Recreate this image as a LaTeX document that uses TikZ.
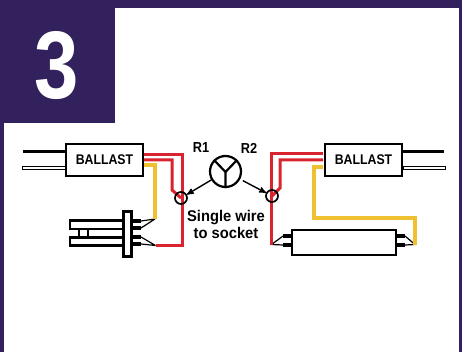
\documentclass[tikz,border=0pt]{standalone}
\usepackage{fontspec}
\setmainfont{Liberation Sans}
\newfontfamily\condfont[FakeStretch=0.88]{Liberation Sans}
\newfontfamily\numfont[FakeStretch=0.83]{Liberation Sans}
\newfontfamily\notefont[FakeStretch=0.95]{Liberation Sans}
\usetikzlibrary{positioning}
\usetikzlibrary{arrows}
\definecolor{bandpurple}{HTML}{32215C}
\definecolor{wirered}{HTML}{D9232E}
\definecolor{wireyellow}{HTML}{EFC02F}
\begin{document}
\begin{tikzpicture}[x=1pt,y=-1pt,>=stealth',
	label node/.style={font=\condfont\bfseries\fontsize{14.5}{14.5}\selectfont,inner sep=0pt},
	ballast node/.style={draw,line width=2.4pt,minimum width=77pt,minimum height=32pt,inner sep=0pt,font=\condfont\bfseries\fontsize{14}{14}\selectfont},
	socket node/.style={circle,draw,line width=1.7pt,minimum size=12pt,inner sep=0pt},
	red wire/.style={draw=wirered,line width=3pt,line join=miter},
	yellow wire/.style={draw=wireyellow,line width=3.6pt,line join=miter},
	pin line/.style={line width=4.5pt},
	lead/.style={line width=1.2pt},
	hollow wire/.style={draw,line width=1pt,fill=white},
	bar/.style={draw,line width=2.4pt,fill=white}]
	\useasboundingbox (0,0) rectangle (462,352);
	
	% frame and number tab
	\fill[bandpurple] (0,0) rectangle (462,8);
	\fill[bandpurple] (0,0) rectangle (4,352);
	\fill[bandpurple] (459,0) rectangle (462,352);
	\fill[bandpurple] (0,0) rectangle (115,123);
	\node[text=white,font=\numfont\bfseries\fontsize{96}{96}\selectfont,inner sep=0pt] (num) at (56.5,66) {3};
	
	% ballasts
	\node[ballast node] (bl) at (104.5,160) {BALLAST};
	\node[ballast node] (br) at (363.5,160) {BALLAST};
	
	% lamp symbol
	\node[circle,draw,line width=2.2pt,minimum size=31pt,inner sep=0pt] (lamp) at (225.5,171.5) {};
	\coordinate (y) at (225.5,172);
	\draw[line width=2.2pt] (lamp.135) -- (y) -- (lamp.45) (y) -- (lamp.south);
	\node[label node] (r1) at (201,148) {R1};
	\node[label node] (r2) at (249,148) {R2};
	\node[label node,font=\notefont\bfseries\fontsize{15.5}{15.5}\selectfont,align=center] (txt) at (226,224.5) {Single wire\\[1pt]to socket};
	
	% sockets
	\coordinate (sl) at (181,198);
	\coordinate (sr) at (272,196);
	
	% tube, left side
	\draw[bar] (70,220.5) rectangle (123,229);
	\draw[bar] (70,237.5) rectangle (123,245.5);
	\draw[line width=2pt] (78.5,229) -- (78.5,237.5) (88,229) -- (88,237.5);
	\node[bar,minimum width=8pt,minimum height=45pt,inner sep=0pt] (cap) at (127.5,234) {};
	\coordinate (ja) at (155,219);
	\coordinate (jb) at (155.5,245.5);
	\draw[pin line] (133,221) -- (141,221) (133,228) -- (141,228) (133,237) -- (141,237) (133,244) -- (141,244);
	\draw[lead] (141,221) -- (ja) (141,228) -- (ja) (141,237) -- (jb) (141,244) -- (jb);
	
	% tube, right side
	\node[draw,line width=2.4pt,minimum width=104pt,minimum height=25pt,inner sep=0pt] (tube) at (344,242.5) {};
	\coordinate (jc) at (271.5,244.5);
	\coordinate (jd) at (415,244.5);
	\draw[pin line] (283,236) -- (291,236) (283,245) -- (291,245) (397,236) -- (405,236) (397,245) -- (405,245);
	\draw[lead] (283,236) -- (jc) (283,245) -- (jc) (405,236) -- (jd) (405,245) -- (jd);
	
	% wires
	\draw[line width=3.2pt] (bl.west |- 0,151.5) -- (23,151.5);
	\draw[hollow wire] (22,166.5) rectangle (65,170);
	\draw[line width=3.2pt] (br.east |- 0,151.5) -- (444,151.5);
	\draw[hollow wire] (403,166.5) rectangle (445,170);
	
	\draw[yellow wire] (144,165) -- (155,165) -- (ja);
	\draw[yellow wire] (323,167) -- (314,167) -- (314,218) -- (415,218) -- (jd);
	\draw[red wire] (144,160) -- (172,160) -- (172,190) -- (sl);
	\draw[red wire] (323,160) -- (280,160) -- (280,188) -- (sr);
	\draw[red wire] (144,154.5) -- (182.5,154.5) -- (182.5,245.5) -- (jb);
	\draw[red wire] (323,153.5) -- (271.5,153.5) -- (jc);
	
	\node[socket node] (scl) at (sl) {};
	\node[socket node] (scr) at (sr) {};
	\draw[->,line width=1.4pt] (lamp) -- (scl);
	\draw[->,line width=1.4pt,shorten <=3pt] (lamp) -- (scr);
	\end{tikzpicture}
\end{document}
